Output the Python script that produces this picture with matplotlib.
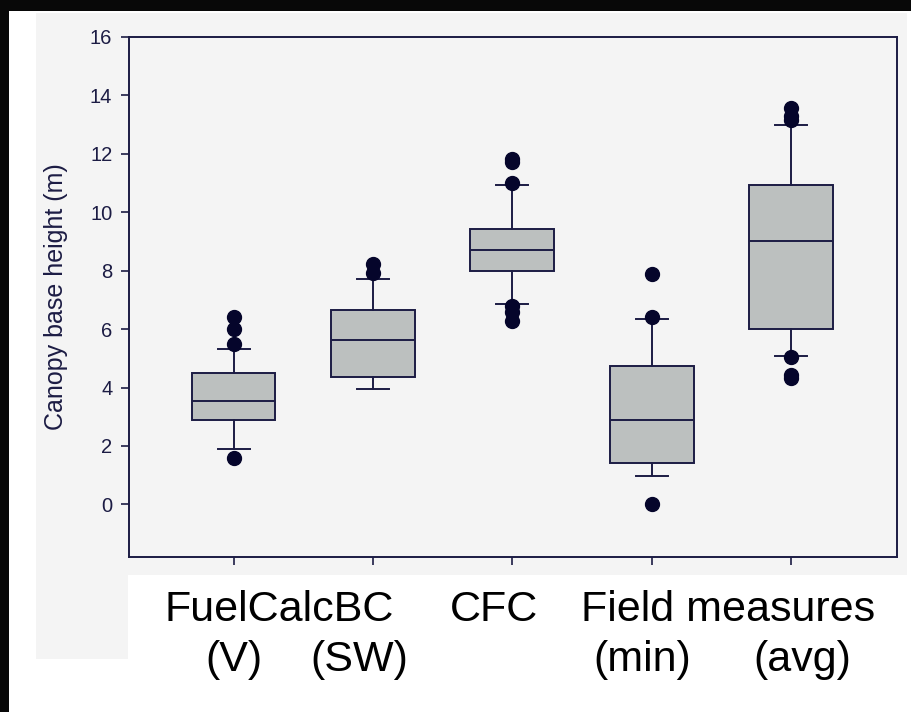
import numpy as np
import matplotlib
matplotlib.use("Agg")
import matplotlib.pyplot as plt
from matplotlib.patches import Rectangle
from matplotlib.transforms import blended_transform_factory

# box statistics
q1 = [2.90, 4.35, 7.99, 1.41, 6.00]
med = [3.55, 5.64, 8.71, 2.88, 9.00]
q3 = [4.50, 6.64, 9.44, 4.73, 10.94]
whislo = [1.88, 3.95, 6.85, 0.98, 5.07]
whishi = [5.33, 7.73, 10.95, 6.36, 12.98]
fliers = [[1.60, 5.48, 6.02, 6.41],
          [7.92, 8.24],
          [6.27, 6.59, 6.80, 11.00, 11.72, 11.82],
          [0.00, 6.41, 7.90],
          [4.33, 4.42, 5.05, 13.15, 13.30, 13.58]]

yticks = [0, 2, 4, 6, 8, 10, 12, 14, 16]
row1_labels = ["FuelCalcBC", "CFC", "Field measures"]
row2_labels = ["(V)", "(SW)", "(min)", "(avg)"]

navy = "#1c1c44"
dot = "#05052b"
panel = "#f4f4f4"

plt.rcParams['font.family'] = ['Liberation Sans', 'DejaVu Sans']

W, H = 911, 712
fig = plt.figure(figsize=(W / 100, H / 100), dpi=100, facecolor="white")

def px_rect(x0, y0, x1, y1, color):
  # rectangle in figure pixels (y measured from top), kept behind the axes
  fig.patches.append(Rectangle((x0 / W, 1 - y1 / H), (x1 - x0) / W, (y1 - y0) / H,
                               transform=fig.transFigure, color=color, lw=0, zorder=-5))

px_rect(0, 0, W, 11, "#080808")
px_rect(0, 0, 9, H, "#080808")
px_rect(36, 13, 907, 575, panel)
px_rect(36, 575, 128, 659, panel)

ax = fig.add_axes([129 / W, 1 - 557 / H, (897 - 129) / W, (557 - 37) / H])
ax.set_facecolor("none")

stats = []
for i in range(len(med)):
  stats.append(dict(q1=q1[i], med=med[i], q3=q3[i], whislo=whislo[i],
                    whishi=whishi[i], fliers=fliers[i]))

ax.bxp(stats, positions=np.arange(1, len(med) + 1), widths=0.6, capwidths=0.23,
       patch_artist=True,
       boxprops=dict(facecolor="#bcc0bf", edgecolor=navy, linewidth=1.4),
       medianprops=dict(color=navy, linewidth=1.4),
       whiskerprops=dict(color=navy, linewidth=1.4),
       capprops=dict(color=navy, linewidth=1.4),
       flierprops=dict(marker="o", markerfacecolor=dot, markeredgecolor=dot, markersize=10))

ax.set_xlim(0.25, 5.76)
ax.set_ylim(-1.8, 16)
ax.set_yticks(yticks)
ax.set_xticks(np.arange(1, len(med) + 1))
ax.set_xticklabels([])
ax.tick_params(axis="both", direction="out", length=6, width=1.2, color=navy,
               labelcolor=navy, labelsize=14.5, pad=6)
for s in ax.spines.values():
  s.set_color(navy)
  s.set_linewidth(1.4)
ax.set_ylabel("Canopy base height (m)", fontsize=18, color=navy, labelpad=16)

# category labels under the axis, two rows
tr = blended_transform_factory(ax.transData, fig.transFigure)
row1_x = [1.33, 2.87, 4.55]
row2_x = [1.0, 1.9, 3.93, 5.08]
for lab, x in zip(row1_labels, row1_x):
  ax.text(x, 1 - 621 / H, lab, transform=tr, ha="center", va="baseline",
          fontsize=31, color="black")
for lab, x in zip(row2_labels, row2_x):
  ax.text(x, 1 - 671 / H, lab, transform=tr, ha="center", va="baseline",
          fontsize=31, color="black")

plt.savefig("out.png", dpi=100, facecolor=fig.get_facecolor())
